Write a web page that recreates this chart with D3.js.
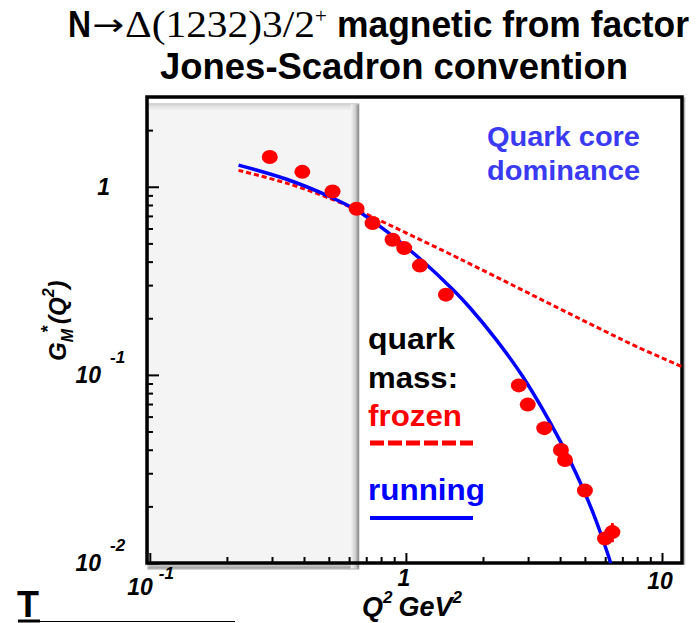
<!DOCTYPE html>
<html><head><meta charset="utf-8">
<script src="https://cdn.jsdelivr.net/npm/d3@7"></script>
<style>body{margin:0;background:#fff}svg{display:block}</style>
</head><body>
<svg id="c" width="699" height="623"></svg>
<script>
// ---- data ----
const q2Points = [0.294,0.394,0.517,0.642,0.741,0.887,0.985,1.134,1.433,2.76,2.99,3.47,4.03,4.18,5.00,5.99,6.40];
const gmPoints = [1.44,1.20,0.944,0.764,0.641,0.523,0.472,0.381,0.267,0.0879,0.0695,0.0521,0.0399,0.0353,0.0243,0.0135,0.0146];
const gmErrors = [0,0,0,0,0,0,0,0,0,0,0,0,0,0,0,0,0.0017];
const runningQ2 = [0.222,0.342,0.505,0.642,0.841,1.135,1.531,1.778,2.259,2.871,4.0,4.775,5.395,6.166,6.30];
const runningGM = [1.303,1.096,0.885,0.750,0.579,0.414,0.2825,0.2275,0.1531,0.0971,0.0446,0.0271,0.0183,0.0110,0.0100];
const frozenQ2 = [0.222,0.342,0.505,0.642,0.841,1.135,1.531,1.778,2.399,3.236,4.375,5.902,7.962,11.94];
const frozenGM = [1.222,1.045,0.867,0.755,0.637,0.524,0.4305,0.389,0.3177,0.2588,0.2109,0.1722,0.1413,0.1107];
const xTickValues = [0.1, 1, 10];
const xTickLabels = [["10","-1"],["1",""],["10",""]];
const yTickValues = [0.01, 0.1, 1];
const yTickLabels = [["10","-2"],["10","-1"],["1",""]];
const xMinorTicks = [0.2,0.3,0.4,0.5,0.6,0.7,0.8,0.9,2,3,4,5,6,7,8,9];
const yMinorTicks = [0.02,0.03,0.04,0.05,0.06,0.07,0.08,0.09,0.2,0.3,0.4,0.5,0.6,0.7,0.8,0.9,2];
const shadedQ2 = [0.0975, 0.655];

// ---- layout ----
const svg = d3.select("#c");
const L=147, T=97, R=682, B=563;
const x = d3.scaleLog().domain([0.0975, 11.97]).range([L,R]);
const y = d3.scaleLog().domain([0.01, 3]).range([B,T]);
const SANS = "'Liberation Sans', Arial, Helvetica, sans-serif";
const SERIF = "'Liberation Serif', 'Times New Roman', serif";

const defs = svg.append("defs");
defs.append("clipPath").attr("id","plot").append("rect")
  .attr("x",L).attr("y",T).attr("width",R-L).attr("height",B-T);
const gR = defs.append("linearGradient").attr("id","gr").attr("x1",0).attr("x2",1).attr("y1",0).attr("y2",0);
gR.append("stop").attr("offset",0).attr("stop-color","#f4f4f4");
gR.append("stop").attr("offset",0.6).attr("stop-color","#cccccc");
gR.append("stop").attr("offset",1).attr("stop-color","#808080");
const gT = defs.append("linearGradient").attr("id","gt").attr("x1",0).attr("x2",0).attr("y1",0).attr("y2",1);
gT.append("stop").attr("offset",0).attr("stop-color","#d8d8d8");
gT.append("stop").attr("offset",1).attr("stop-color","#f4f4f4");
const gB = defs.append("linearGradient").attr("id","gb").attr("x1",0).attr("x2",0).attr("y1",0).attr("y2",1);
gB.append("stop").attr("offset",0).attr("stop-color","#e6e6e6");
gB.append("stop").attr("offset",1).attr("stop-color","#9a9a9a");

// shaded region
const bx0 = x(shadedQ2[0])+1, bx1 = x(shadedQ2[1]);
const by0 = T+7, by1 = B+6;
svg.append("rect").attr("x",bx0).attr("y",by0).attr("width",bx1-bx0).attr("height",by1-by0)
  .attr("fill","#f4f4f4").attr("stroke","#a8a8a8").attr("stroke-width",1);
svg.append("rect").attr("x",bx0+0.5).attr("y",by0+0.5).attr("width",bx1-bx0-1).attr("height",6).attr("fill","url(#gt)");
svg.append("rect").attr("x",bx0+0.5).attr("y",by1-6).attr("width",bx1-bx0-1).attr("height",5.5).attr("fill","url(#gb)");
svg.append("rect").attr("x",bx1-8).attr("y",by0+0.5).attr("width",8).attr("height",by1-by0-1).attr("fill","url(#gr)");

// frame
svg.append("line").attr("x1",R+2.5).attr("x2",R+2.5).attr("y1",T).attr("y2",B+2).attr("stroke","#b8b8b8").attr("stroke-width",1.5);
svg.append("rect").attr("x",L).attr("y",T).attr("width",R-L).attr("height",B-T)
  .attr("fill","none").attr("stroke","#000").attr("stroke-width",3.5);

// ticks
function ticks(axis, vals, size, tr){
  const g = svg.append("g").attr("transform",tr).call(axis.tickValues(vals).tickSize(size).tickFormat(""));
  g.select(".domain").remove();
  g.selectAll(".tick line").attr("stroke","#000").attr("stroke-width",2);
}
ticks(d3.axisLeft(y), yTickValues, -12, `translate(${L},0)`);
ticks(d3.axisLeft(y), yMinorTicks, -6, `translate(${L},0)`);
ticks(d3.axisBottom(x), xTickValues, -10, `translate(0,${B})`);
ticks(d3.axisBottom(x), xMinorTicks, -6, `translate(0,${B})`);

// curves
const line = d3.line().x(d=>x(d[0])).y(d=>y(d[1])).curve(d3.curveCatmullRom.alpha(0.5));
const cg = svg.append("g").attr("clip-path","url(#plot)");
cg.append("path").attr("d", line(frozenQ2.map((q,i)=>[q,frozenGM[i]])))
  .attr("fill","none").attr("stroke","#ff0000").attr("stroke-width",3).attr("stroke-dasharray","5,3");
cg.append("path").attr("d", line(runningQ2.map((q,i)=>[q,runningGM[i]])))
  .attr("fill","none").attr("stroke","#0000ff").attr("stroke-width",3.5);

// points
const pts = q2Points.map((q,i)=>({q, g:gmPoints[i], e:gmErrors[i]}));
svg.append("g").selectAll("line").data(pts.filter(d=>d.e>0)).join("line")
  .attr("x1",d=>x(d.q)).attr("x2",d=>x(d.q)).attr("y1",d=>y(d.g+d.e)).attr("y2",d=>y(d.g-d.e))
  .attr("stroke","#ff0000").attr("stroke-width",3);
svg.append("g").selectAll("ellipse").data(pts).join("ellipse")
  .attr("cx",d=>x(d.q)).attr("cy",d=>y(d.g)).attr("rx",8).attr("ry",7).attr("fill","#ff0000");

// tick labels
const lab = {"font-family":SANS,"font-weight":"bold","font-style":"italic","fill":"#000"};
function txt(s, xx, yy, size, attrs, anchor){
  const t = svg.append("text").attr("x",xx).attr("y",yy).attr("font-size",size).text(s);
  for (const k in attrs) t.attr(k, attrs[k]);
  if (anchor) t.attr("text-anchor", anchor);
  return t;
}
yTickValues.forEach((v,i)=>{
  const [m,e] = yTickLabels[i];
  if (e){ txt(m, 101, y(v)+8, 23, lab, "end"); txt(e, 110, y(v)-12, 17, lab); }
  else txt(m, 110, y(v)+8, 23, lab, "end");
});
xTickValues.forEach((v,i)=>{
  const [m,e] = xTickLabels[i];
  if (e){ txt(m, x(v)+3, 595, 23, lab, "end"); txt(e, x(v)+9, 579, 17, lab); }
  else txt(m, x(v)-2, v===1 ? 586 : 589, 23, lab, "middle");
});

// axis titles
const xt = svg.append("text").attr("x",362).attr("y",616).attr("font-size",27)
  .attr("font-family",SANS).attr("font-weight","bold").attr("font-style","italic");
xt.append("tspan").text("Q");
xt.append("tspan").attr("dy",-13).attr("font-size",17).text("2");
xt.append("tspan").attr("dy",13).attr("dx",6).text("GeV");
xt.append("tspan").attr("dy",-13).attr("font-size",17).text("2");

const yt = svg.append("text").attr("transform","translate(66,361) rotate(-90)").attr("font-size",24)
  .attr("font-family",SANS).attr("font-weight","bold").attr("font-style","italic");
yt.append("tspan").text("G");
yt.append("tspan").attr("dy",7).attr("font-size",16).text("M");
yt.append("tspan").attr("dy",-19).attr("dx",-4).attr("font-size",18).text("*");
yt.append("tspan").attr("dy",12).attr("dx",2).text("(Q");
yt.append("tspan").attr("dy",-12).attr("font-size",16).text("2");
yt.append("tspan").attr("dy",12).text(")");

// title
const tb = {"font-family":SANS,"font-weight":"bold","fill":"#000"};
txt("N", 68, 37, 36, tb).attr("textLength",23).attr("lengthAdjust","spacingAndGlyphs");
txt("\u2192", 92, 35, 30, {"font-family":"'DejaVu Sans', sans-serif","fill":"#000"}).attr("textLength",32).attr("lengthAdjust","spacingAndGlyphs");
txt("\u0394(1232)3/2", 125, 37, 38, {"font-family":SERIF,"fill":"#000"}).attr("textLength",190).attr("lengthAdjust","spacingAndGlyphs");
txt("+", 315, 23, 21, {"font-family":SERIF,"fill":"#000"});
txt("magnetic from factor", 337, 37, 36, tb).attr("textLength",352).attr("lengthAdjust","spacingAndGlyphs");
txt("Jones-Scadron convention", 160, 79, 36, tb).attr("textLength",468).attr("lengthAdjust","spacingAndGlyphs");

// annotations
const qc = {"font-family":SANS,"font-weight":"bold","fill":"#3a3af2"};
txt("Quark core", 487, 146, 27, qc).attr("textLength",153).attr("lengthAdjust","spacingAndGlyphs");
txt("dominance", 487, 180, 27, qc).attr("textLength",153).attr("lengthAdjust","spacingAndGlyphs");

const lg = {"font-family":SANS,"font-weight":"bold"};
txt("quark", 368, 349, 30, {...lg, fill:"#000"}).attr("textLength",87).attr("lengthAdjust","spacingAndGlyphs");
txt("mass:", 368, 388, 30, {...lg, fill:"#000"}).attr("textLength",90).attr("lengthAdjust","spacingAndGlyphs");
txt("frozen", 368, 426, 30, {...lg, fill:"#ff0000"}).attr("textLength",94).attr("lengthAdjust","spacingAndGlyphs");
svg.append("line").attr("x1",370).attr("x2",473).attr("y1",443).attr("y2",443)
  .attr("stroke","#ff0000").attr("stroke-width",5).attr("stroke-dasharray","14,4");
txt("running", 368, 500, 30, {...lg, fill:"#0000ff"}).attr("textLength",117).attr("lengthAdjust","spacingAndGlyphs");
svg.append("line").attr("x1",370).attr("x2",473).attr("y1",518).attr("y2",518)
  .attr("stroke","#0000ff").attr("stroke-width",4);

// bottom-left fragment
txt("T", 17, 617, 36, {"font-family":SANS,"font-weight":"bold","fill":"#000"}).attr("textLength",22).attr("lengthAdjust","spacingAndGlyphs");
svg.append("line").attr("x1",18).attr("x2",40).attr("y1",621).attr("y2",621).attr("stroke","#000").attr("stroke-width",3);
svg.append("line").attr("x1",40).attr("x2",235).attr("y1",621.5).attr("y2",621.5).attr("stroke","#000").attr("stroke-width",1);
</script>
</body></html>
